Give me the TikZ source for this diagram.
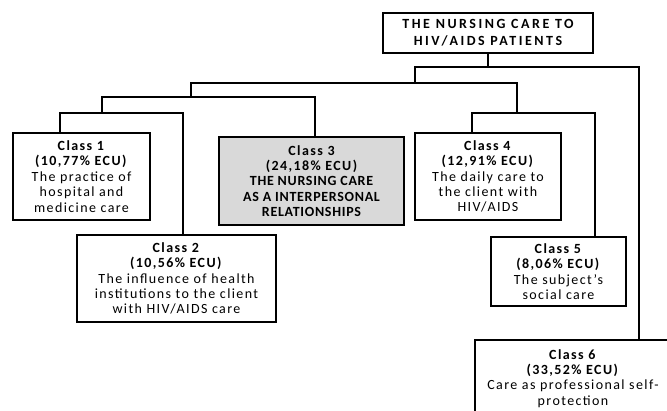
\documentclass[tikz,border=0pt]{standalone}
\usepackage{fontspec}
\setmainfont{Carlito}
\newfontfamily\classfont{Carlito}[LetterSpace=10]
\newfontfamily\capsfont{Carlito}[LetterSpace=5]
\newfontfamily\titlefont{Carlito}[LetterSpace=18]
\definecolor{classgray}{RGB}{217,217,217}

\begin{document}
\begin{tikzpicture}[x=1pt,y=1pt,line width=1.3pt,class box/.style={draw,line width=1.6pt,fill=white,align=center,inner sep=0pt,font=\fontsize{14}{15.4}\classfont},main class/.style={class box,fill=classgray,font=\fontsize{14}{15.4}\capsfont\bfseries}]
            \useasboundingbox (0,0) rectangle (667,410);

            \node[class box,minimum width=210pt,minimum height=40pt,font=\fontsize{14}{17}\titlefont\bfseries] (top) at (488,377) {THE NURSING CARE TO\\HIV/AIDS PATIENTS};

            \node[class box,minimum width=137pt,minimum height=87pt] (c1) at (81.5,233.5) {\textbf{Class 1}\\\textbf{(10,77\% ECU)}\\The practice of\\hospital and\\medicine care};
            \node[class box,minimum width=199pt,minimum height=87pt] (c2) at (176.5,131.5) {\textbf{Class 2}\\\textbf{(10,56\% ECU)}\\The influence of health\\institutions to the client\\with HIV/AIDS care};
            \node[main class,minimum width=185pt,minimum height=88pt] (c3) at (311.5,229) {\classfont Class 3\\\classfont (24,18\% ECU)\\THE NURSING CARE\\AS A INTERPERSONAL\\RELATIONSHIPS};
            \node[class box,minimum width=146pt,minimum height=87pt] (c4) at (488,233.5) {\textbf{Class 4}\\\textbf{(12,91\% ECU)}\\The daily care to\\the client with\\HIV/AIDS};
            \node[class box,minimum width=135pt,minimum height=69pt] (c5) at (558.5,138.5) {\textbf{Class 5}\\\textbf{(8,06\% ECU)}\\The subject’s\\social care};
            \node[class box,minimum width=196pt,minimum height=77pt] (c6) at (573,31.5) {\textbf{Class 6}\\\textbf{(33,52\% ECU)}\\Care as professional self-\\protection};

            \coordinate (busAl) at (415,343);
            \coordinate (busAr) at (639,343);
            \coordinate (busBl) at (191,327);
            \coordinate (busBr) at (517,327);
            \coordinate (busCl) at (102,313);
            \coordinate (busCr) at (315,313);
            \coordinate (busEl) at (60,297);
            \coordinate (busEr) at (183,297);
            \coordinate (busDl) at (472,297);
            \coordinate (busDr) at (595,297);

            \draw (top.south) -- (top.south |- busAl);
            \draw (busAl |- busBl) -- (busAl) -- (busAr) -- (busAr |- c6.north);
            \draw (busBl |- busCl) -- (busBl) -- (busBr) -- (busBr |- busDl);
            \draw (busCl |- busEl) -- (busCl) -- (busCr) -- (busCr |- c3.north);
            \draw (busEl |- c1.north) -- (busEl) -- (busEr) -- (busEr |- c2.north);
            \draw (busDl |- c4.north) -- (busDl) -- (busDr) -- (busDr |- c5.north);
        \end{tikzpicture}
\end{document}
